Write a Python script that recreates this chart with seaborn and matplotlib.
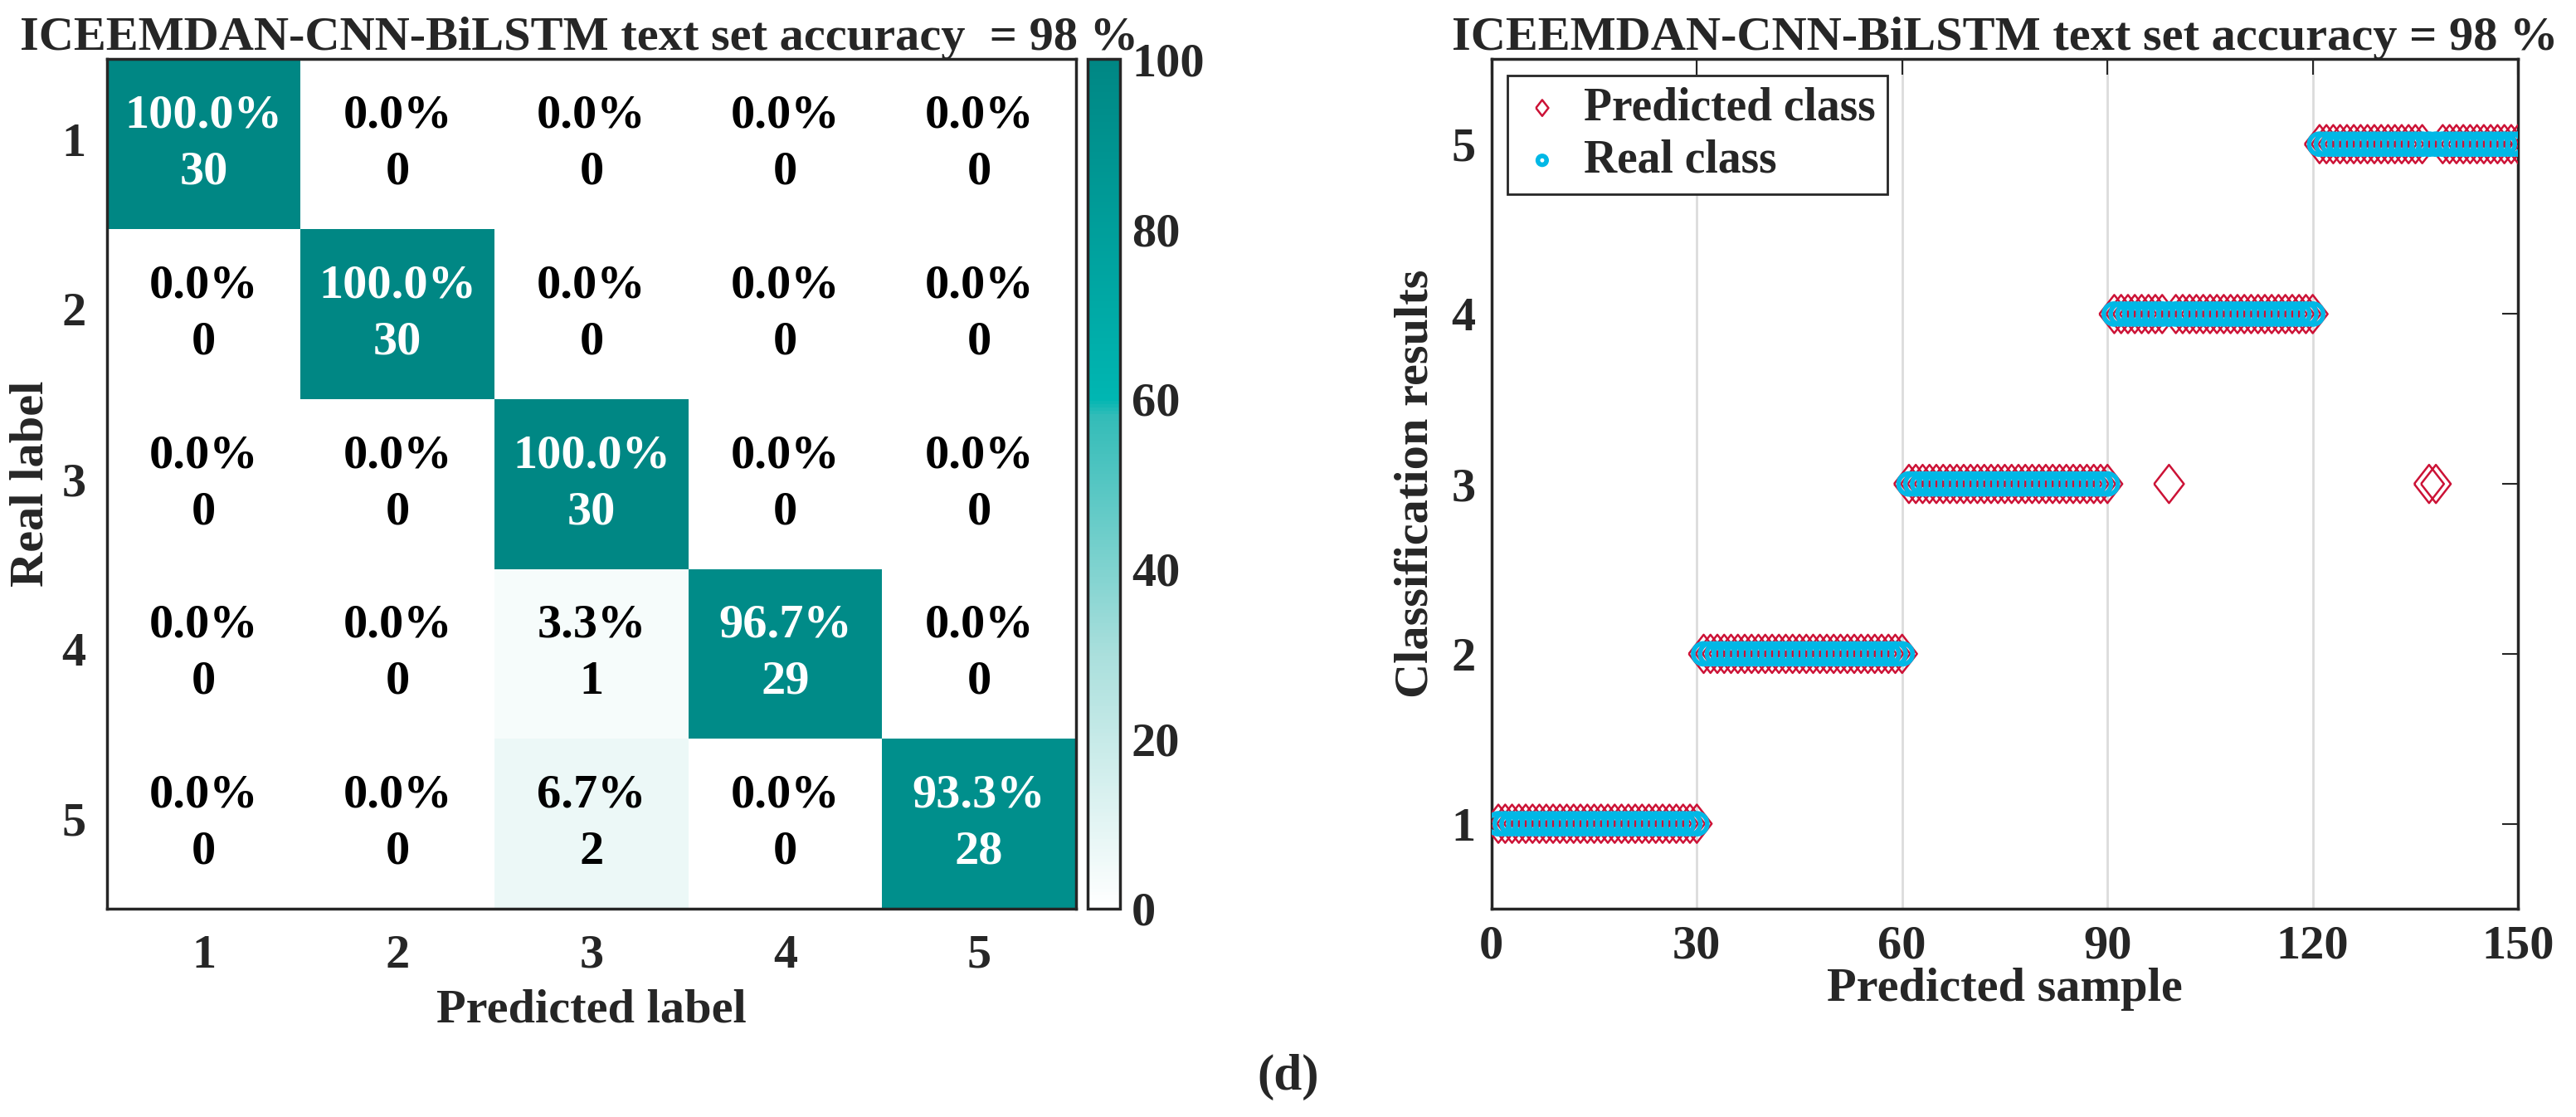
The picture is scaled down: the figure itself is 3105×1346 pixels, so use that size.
import numpy as np
import pandas as pd
import matplotlib
matplotlib.use("Agg")
import matplotlib.pyplot as plt
import seaborn as sns
from matplotlib.colors import LinearSegmentedColormap

# ---------------- data ----------------
class_labels = ["1", "2", "3", "4", "5"]
counts = [
    [30, 0, 0, 0, 0],
    [0, 30, 0, 0, 0],
    [0, 0, 30, 0, 0],
    [0, 0, 1, 29, 0],
    [0, 0, 2, 0, 28],
]
percents = [
    [100.0, 0.0, 0.0, 0.0, 0.0],
    [0.0, 100.0, 0.0, 0.0, 0.0],
    [0.0, 0.0, 100.0, 0.0, 0.0],
    [0.0, 0.0, 3.3, 96.7, 0.0],
    [0.0, 0.0, 6.7, 0.0, 93.3],
]
cbar_ticks = [0, 20, 40, 60, 80, 100]

sample_index = list(range(1, 151))
real_class = [1] * 30 + [2] * 30 + [3] * 30 + [4] * 30 + [5] * 30
predicted_class = ([1] * 30 + [2] * 30 + [3] * 30 + [4] * 8 + [3] + [4] * 21
                   + [5] * 16 + [3, 3] + [5] * 12)
x_ticks = [0, 30, 60, 90, 120, 150]
y_ticks = [1, 2, 3, 4, 5]

title_left = "ICEEMDAN-CNN-BiLSTM text set accuracy  = 98 %"
title_right = "ICEEMDAN-CNN-BiLSTM text set accuracy = 98 %"

# ---------------- style ----------------
sns.set_theme(style="white")
plt.rcParams["font.family"] = ["Liberation Serif", "DejaVu Serif"]
plt.rcParams["font.weight"] = "bold"
plt.rcParams["axes.labelweight"] = "bold"
plt.rcParams["axes.titleweight"] = "bold"

FS = 42
edge = "#262626"

fig = plt.figure(figsize=(31.05, 13.46), dpi=100)

ax_h = fig.add_axes([0.0415, 0.1865, 0.3762, 0.7605])
ax_cb = fig.add_axes([0.4222, 0.1865, 0.0126, 0.7605])
ax_s = fig.add_axes([0.579, 0.1865, 0.3985, 0.7605])

cmap = LinearSegmentedColormap.from_list(
    "teal", [(0.0, "#ffffff"), (0.3, "#a9dfdc"), (0.58, "#33bcb8"),
             (0.6, "#00b6b2"), (1.0, "#008784")])

pct = pd.DataFrame(percents, index=class_labels, columns=class_labels)
annot = np.array([[f"{percents[i][j]:.1f}%\n{counts[i][j]}" for j in range(5)]
                  for i in range(5)])

sns.heatmap(pct, ax=ax_h, cbar_ax=ax_cb, cmap=cmap, vmin=0, vmax=100,
            annot=annot, fmt="",
            annot_kws={"fontsize": FS, "fontweight": "bold", "linespacing": 1.4},
            cbar_kws={"ticks": cbar_ticks})

for t in ax_h.texts:
    r = t.get_text()
    t.set_color("white" if float(r.split("%")[0]) > 50 else "black")

for sp in ax_h.spines.values():
    sp.set_visible(True)
    sp.set_linewidth(2.5)
    sp.set_color(edge)
ax_h.set_xlabel("Predicted label", fontsize=FS, fontweight="bold", labelpad=10)
ax_h.set_ylabel("Real label", fontsize=FS, fontweight="bold", labelpad=8)
ax_h.tick_params(axis="both", labelsize=FS, length=6, width=1.2, color=edge,
                 direction="out", pad=16)
ax_h.tick_params(axis="y", length=0, pad=18)
ax_h.set_yticklabels(class_labels, rotation=0, fontweight="bold")
ax_h.set_xticklabels(class_labels, rotation=0, fontweight="bold")
ax_h.set_title(title_left, fontsize=FS, fontweight="bold", pad=8, loc="left",
               x=-0.09)

cb = ax_h.collections[0].colorbar
cb.outline.set_linewidth(2.5)
cb.outline.set_edgecolor(edge)
ax_cb.tick_params(labelsize=FS, direction="in", length=12, width=1.5,
                  color=edge, pad=10)
for lab in ax_cb.get_yticklabels():
    lab.set_fontweight("bold")

# ---------------- scatter ----------------
red = "#cc1236"
cyan = "#00b8e6"
diamond = [(-0.78, 0.0), (0.0, 1.0), (0.78, 0.0), (0.0, -1.0), (-0.78, 0.0)]

sns.scatterplot(x=sample_index, y=predicted_class, ax=ax_s, marker=diamond,
                s=1100, facecolor="none", edgecolor=red, linewidth=1.8,
                label="Predicted class", zorder=3)
sns.scatterplot(x=sample_index, y=real_class, ax=ax_s, marker="o",
                s=330, facecolor="none", edgecolor=cyan, linewidth=4.0,
                label="Real class", zorder=4)

ax_s.set_xlim(0, 150)
ax_s.set_ylim(0.5, 5.5)
ax_s.set_xticks(x_ticks)
ax_s.set_yticks(y_ticks)
ax_s.set_xticklabels([str(v) for v in x_ticks], fontweight="bold")
ax_s.set_yticklabels([str(v) for v in y_ticks], fontweight="bold")
ax_s.grid(axis="x", color="#dcdcdc", linewidth=2)
ax_s.grid(axis="y", visible=False)
ax_s.set_axisbelow(True)
for sp in ax_s.spines.values():
    sp.set_visible(True)
    sp.set_linewidth(2.5)
    sp.set_color(edge)
ax_s.tick_params(axis="both", labelsize=FS, direction="in", length=14,
                 width=1.5, color=edge, top=True, right=True, pad=14)
ax_s.set_xlabel("Predicted sample", fontsize=FS, fontweight="bold", labelpad=0)
ax_s.set_ylabel("Classification results", fontsize=FS, fontweight="bold",
                labelpad=12)
ax_s.set_title(title_right, fontsize=FS, fontweight="bold", pad=8)

leg = ax_s.legend(loc="upper left", fontsize=FS - 2, markerscale=0.42,
                  frameon=True, fancybox=False, framealpha=1,
                  edgecolor=edge, borderpad=0.25, handletextpad=0.4,
                  labelspacing=0.2, borderaxespad=0.35, handlelength=1.0)
leg.get_frame().set_linewidth(2)
for txt in leg.get_texts():
    txt.set_fontweight("bold")

fig.text(0.5, 0.036, "(d)", ha="center", va="center", fontsize=FS + 2,
         fontweight="bold")

fig.savefig("out.png", dpi=100)
